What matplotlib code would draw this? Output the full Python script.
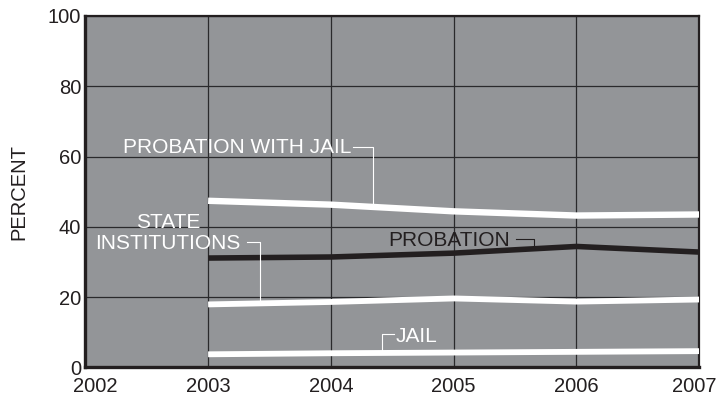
import matplotlib.pyplot as plt
from matplotlib.transforms import ScaledTranslation

plt.rcParams['font.family'] = ['Liberation Sans', 'DejaVu Sans']

years = [2003, 2004, 2005, 2006, 2007]
probation_with_jail = [47.4, 46.3, 44.4, 43.2, 43.5]
probation = [31.1, 31.4, 32.5, 34.4, 32.8]
state_institutions = [17.9, 18.6, 19.6, 18.7, 19.3]
jail = [3.7, 4.0, 4.2, 4.4, 4.6]

x_ticks = [2002, 2003, 2004, 2005, 2006, 2007]
y_ticks = [0, 20, 40, 60, 80, 100]

BG = '#939598'
INK = '#231f20'

fig = plt.figure(figsize=(7.18, 3.96), dpi=100)
ax = fig.add_axes([85.3 / 718, (396 - 367.3) / 396, (699.3 - 85.3) / 718, (367.3 - 16) / 396])
ax.set_facecolor(BG)

ax.set_xlim(2002, 2007)
ax.set_ylim(0, 100)
ax.set_xticks(x_ticks)
ax.set_yticks(y_ticks)
ax.tick_params(length=0, labelsize=14.5, labelcolor=INK)
ax.tick_params(axis='y', pad=3)
ax.tick_params(axis='x', pad=7)
ax.grid(True, color='#2a2a2c', linewidth=0.9)
ax.set_axisbelow(True)
for side, lw in [('left', 2.4), ('bottom', 2.4), ('top', 1.6), ('right', 1.6)]:
    ax.spines[side].set_linewidth(lw)
    ax.spines[side].set_color(INK)
ax.set_ylabel('PERCENT', fontsize=14.5, color=INK, labelpad=14)

# first and last year labels sit a little inside the frame
xlabels = ax.get_xticklabels()
xlabels[0].set_transform(xlabels[0].get_transform() + ScaledTranslation(10 / 100, 0, fig.dpi_scale_trans))
xlabels[-1].set_transform(xlabels[-1].get_transform() + ScaledTranslation(-5 / 100, 0, fig.dpi_scale_trans))

# series
ax.plot(years, probation_with_jail, color='white', lw=4.6, solid_capstyle='butt', zorder=3)
ax.plot(years, state_institutions, color='white', lw=4.2, solid_capstyle='butt', zorder=3)
ax.plot(years, jail, color='white', lw=4.2, solid_capstyle='butt', zorder=3)
ax.plot(years, probation, color=INK, lw=4.0, solid_capstyle='butt', zorder=3)

# labels with leader lines
lead = dict(color='white', lw=0.8, zorder=4)
ax.text(2004.169, 60.98, 'PROBATION WITH JAIL', color='white', fontsize=15, ha='right', va='baseline')
ax.plot([2004.18, 2004.34, 2004.34], [62.6, 62.6, 46.5], **lead)

ax.text(2002.673, 39.7, 'STATE', color='white', fontsize=15, ha='center', va='baseline')
ax.text(2002.673, 33.6, 'INSTITUTIONS', color='white', fontsize=15, ha='center', va='baseline')
ax.plot([2003.314, 2003.423, 2003.423], [35.8, 35.8, 19.2], **lead)

ax.text(2004.467, 34.4, 'PROBATION', color=INK, fontsize=15, ha='left', va='baseline')
ax.plot([2005.507, 2005.654, 2005.654], [36.55, 36.55, 34.56], color=INK, lw=0.8, zorder=4)

ax.text(2004.53, 7.07, 'JAIL', color='white', fontsize=15, ha='left', va='baseline')
ax.plot([2004.516, 2004.414, 2004.414], [9.4, 9.4, 4.7], **lead)

fig.savefig('out.png', dpi=100)
